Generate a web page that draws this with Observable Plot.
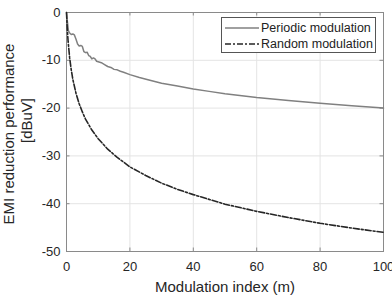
<!DOCTYPE html>
<html>
<head>
<meta charset="utf-8">
<script src="https://cdn.jsdelivr.net/npm/d3@7"></script>
<script src="https://cdn.jsdelivr.net/npm/@observablehq/plot@0.6"></script>
<style>
  html, body { margin: 0; padding: 0; background: #fff; }
  #chart { position: relative; width: 392px; height: 295px; font-family: "Liberation Sans", Arial, sans-serif; }
  #legend {
    position: absolute; left: 221px; top: 17px; width: 153px; height: 34px;
    border: 1px solid #555; background: #fff; font-size: 12.5px; color: #222;
  }
  #legend .row { position: absolute; left: 3px; width: 150px; height: 16px; display: flex; align-items: center; white-space: nowrap; }
  #legend svg { display: block; flex: 0 0 auto; margin-right: 2px; }
</style>
</head>
<body>
<div id="chart"><div id="legend"></div></div>
<script>
// Modulation index axis and the two reduction curves (dBuV)
const periodicM = [0, 0.3, 0.6, 1, 1.5, 2, 2.5, 3, 3.5, 4, 4.5, 5, 5.5, 6, 6.5, 7, 7.5, 8, 8.5, 9, 9.5, 10,
  11, 12, 13, 14, 15, 16, 17, 18, 20, 23, 26, 30, 35, 40, 45, 50, 60, 70, 80, 90, 100];
const periodicDb = [0, -2.0, -3.8, -4.3, -4.6, -4.5, -4.7, -5.6, -6.6, -7.0, -6.9, -7.1, -8.2, -8.4, -8.3, -9.0, -9.2, -9.7, -9.5, -9.7, -10.2, -10.3,
  -10.5, -10.9, -11.3, -11.5, -11.9, -12.0, -12.3, -12.5, -13.0, -13.6, -14.1, -14.8, -15.4, -16.0, -16.5, -17.0, -17.8, -18.4, -19.0, -19.5, -20.0];

const randomM = [0, 0.25, 0.5, 1, 1.5, 2, 3, 4, 5, 6, 8, 10, 13, 16, 20, 25, 30, 35, 40, 50, 60, 70, 80, 90, 100];
const randomDb = [0, -3.5, -6.0, -9.5, -12.0, -14.0, -16.9, -19.1, -20.8, -22.3, -24.6, -26.4, -28.6, -30.3, -32.3, -34.1, -35.7, -37.0, -38.1, -40.1, -41.6, -42.9, -44.1, -45.1, -46.0];

const seriesNames = ["Periodic modulation", "Random modulation"];
const xTicks = [0, 20, 40, 60, 80, 100];
const yTicks = [0, -10, -20, -30, -40, -50];
const xLabel = "Modulation index (m)";
const yLabelLines = ["EMI reduction performance", "[dBuV]"];

const periodic = periodicM.map((m, i) => ({m, db: periodicDb[i]}));
const random = randomM.map((m, i) => ({m, db: randomDb[i]}));

const axisColor = "#8a8a8a";
const gridColor = "#e4e4e4";
const periodicColor = "#808080";
const randomColor = "#262626";
const randomDash = "6,2,2,2";

const chart = Plot.plot({
  width: 392,
  height: 295,
  marginLeft: 66,
  marginRight: 9,
  marginTop: 12,
  marginBottom: 44,
  style: {fontFamily: "'Liberation Sans', Arial, sans-serif", fontSize: "13px", color: "#262626", background: "#fff", overflow: "visible"},
  x: {domain: [0, 100]},
  y: {domain: [-50, 0]},
  marks: [
    Plot.gridX(xTicks, {stroke: gridColor, strokeOpacity: 1}),
    Plot.gridY(yTicks, {stroke: gridColor, strokeOpacity: 1}),
    // inward tick marks on all four sides
    Plot.ruleX(xTicks, {y1: -50, y2: -49.27, stroke: axisColor}),
    Plot.ruleX(xTicks, {y1: 0, y2: -0.73, stroke: axisColor}),
    Plot.ruleY(yTicks, {x1: 0, x2: 1.1, stroke: axisColor}),
    Plot.ruleY(yTicks, {x1: 100, x2: 98.9, stroke: axisColor}),
    Plot.frame({stroke: axisColor, strokeWidth: 1}),
    Plot.axisX(xTicks, {tickSize: 0, tickPadding: 10, label: null, fontSize: 13, tickFormat: d => String(d)}),
    Plot.axisY(yTicks, {tickSize: 0, tickPadding: 6, label: null, fontSize: 13, tickFormat: d => String(d)}),
    Plot.line(periodic, {x: "m", y: "db", stroke: periodicColor, strokeWidth: 1.5}),
    Plot.line(random, {x: "m", y: "db", stroke: randomColor, strokeWidth: 1.6, strokeDasharray: randomDash}),
    Plot.text([xLabel], {frameAnchor: "bottom", lineAnchor: "middle", dy: 35.5, fontSize: 15, fill: "#262626"}),
    Plot.text([yLabelLines[0]], {frameAnchor: "left", rotate: -90, textAnchor: "middle", lineAnchor: "middle", dx: -57.5, dy: 2, fontSize: 15, fill: "#262626"}),
    Plot.text([yLabelLines[1]], {frameAnchor: "left", rotate: -90, textAnchor: "middle", lineAnchor: "middle", dx: -39.5, dy: -11.5, fontSize: 15, fill: "#262626"})
  ]
});

const container = document.getElementById("chart");
container.insertBefore(chart, container.firstChild);

// legend box in the upper right of the axes
const legend = document.getElementById("legend");
const legendStyles = [
  {stroke: periodicColor, dash: null},
  {stroke: randomColor, dash: randomDash}
];
seriesNames.forEach((name, i) => {
  const row = document.createElement("div");
  row.className = "row";
  row.style.top = (2 + i * 16) + "px";
  const s = legendStyles[i];
  row.innerHTML =
    `<svg width="34" height="10"><line x1="0" y1="5" x2="34" y2="5" stroke="${s.stroke}" stroke-width="1.5"` +
    (s.dash ? ` stroke-dasharray="${s.dash}"` : "") + `/></svg><span>${name}</span>`;
  legend.appendChild(row);
});
</script>
</body>
</html>
